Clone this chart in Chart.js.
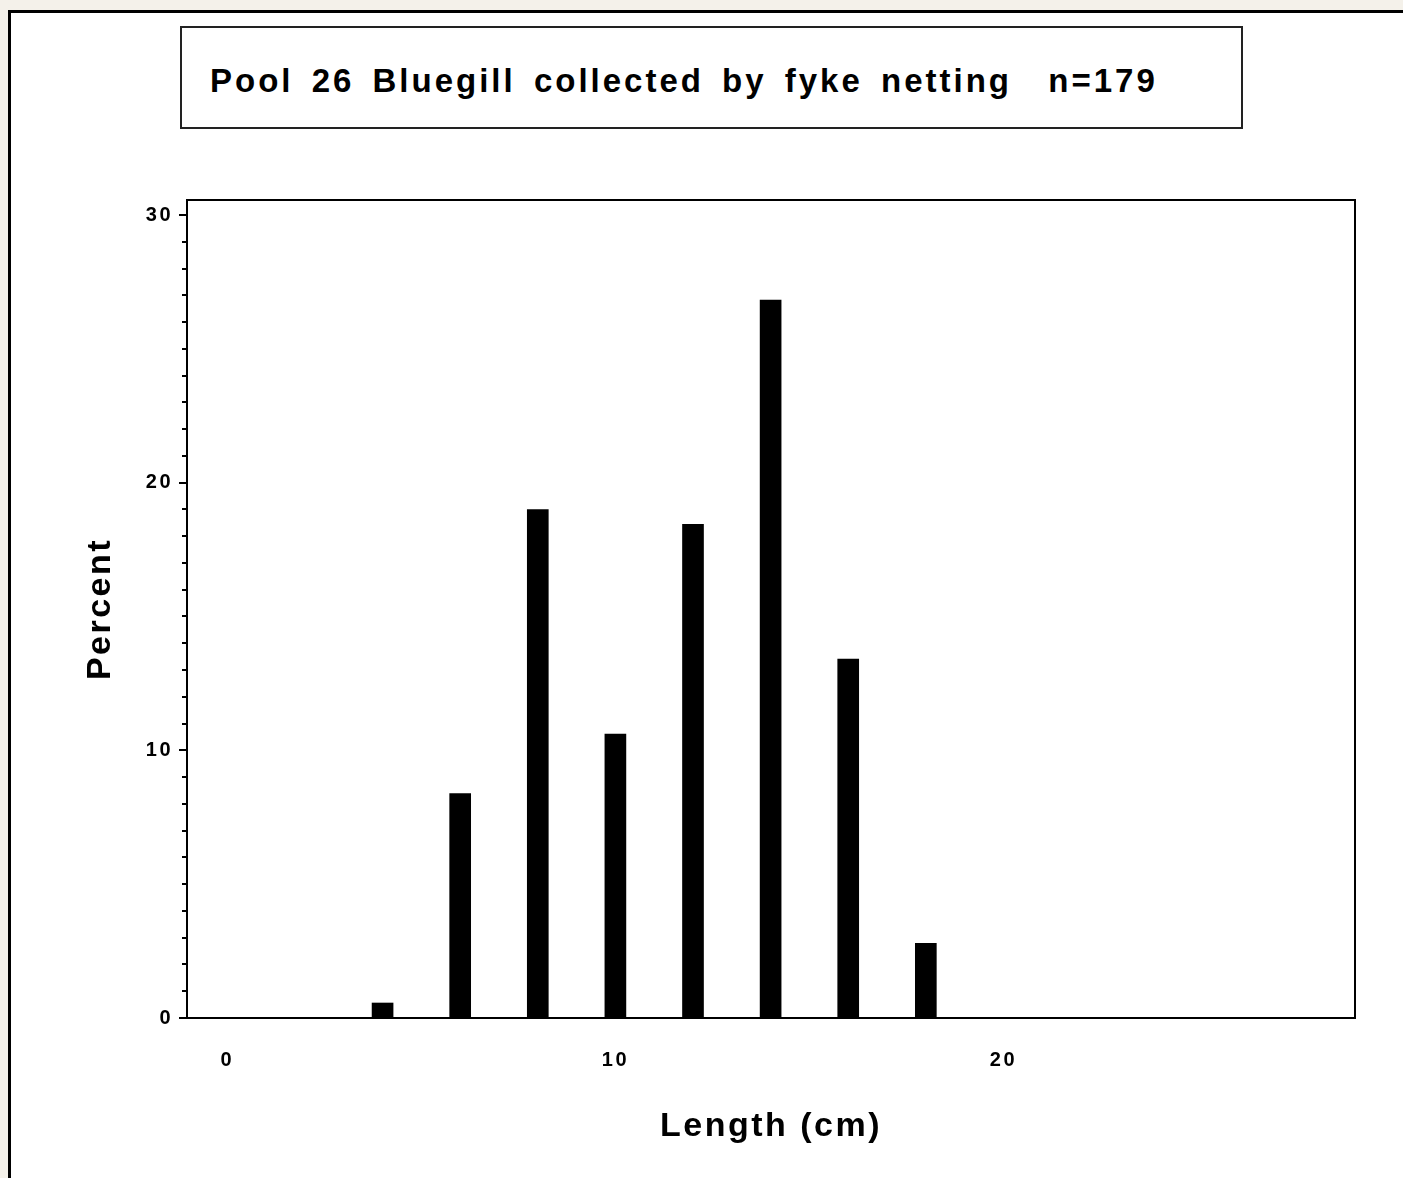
<!DOCTYPE html>
<html>
<head>
<meta charset="utf-8">
<script src="https://cdn.jsdelivr.net/npm/chart.js@4"></script>
<style>
  body {
    margin: 0;
    width: 1403px;
    height: 1178px;
    overflow: hidden;
    position: relative;
    background: #f4f1ea;
    font-family: "Liberation Sans", Arial, sans-serif;
  }
  #panel {
    position: absolute;
    left: 8px;
    top: 10px;
    right: 0;
    bottom: 0;
    background: #fff;
    border-left: 3px solid #000;
    border-top: 3px solid #000;
  }
  #title {
    position: absolute;
    left: 180px;
    top: 26px;
    width: 1031px;
    height: 65px;
    padding: 34px 0 0 28px;
    border: 2px solid #222;
    font-weight: bold;
    font-size: 33px;
    line-height: 38px;
    letter-spacing: 3px;
    word-spacing: 6px;
    white-space: pre;
    color: #000;
  }
  #chart {
    position: absolute;
    left: 0;
    top: 0;
  }
</style>
</head>
<body>
<div id="panel"></div>
<div id="title">Pool 26 Bluegill collected by fyke netting  n=179</div>
<canvas id="chart" width="1403" height="1178"></canvas>
<script>
// length classes (cm) and percent of fish in each
const lengths = [4, 6, 8, 10, 12, 14, 16, 18];
const percents = [0.56, 8.38, 18.99, 10.61, 18.44, 26.82, 13.41, 2.79];

const xTicks = [0, 10, 20];
const yTicks = [0, 10, 20, 30];
const yMinorTicks = [1, 2, 3, 4, 5, 6, 7, 8, 9, 11, 12, 13, 14, 15, 16, 17, 18, 19, 21, 22, 23, 24, 25, 26, 27, 28, 29];

const sasLook = {
    id: 'sasLook',
    beforeLayout(chart) {
        chart.ctx.letterSpacing = '2.5px';
    },
    beforeDraw(chart) {
        chart.ctx.letterSpacing = '2.5px';
    },
    afterDraw(chart) {
        const ctx = chart.ctx;
        const area = chart.chartArea;
        const yScale = chart.scales.y;
        ctx.save();
        ctx.strokeStyle = '#000';
        ctx.lineWidth = 2;
        // frame top and right
        ctx.beginPath();
        ctx.moveTo(area.left, area.top);
        ctx.lineTo(area.right, area.top);
        ctx.lineTo(area.right, area.bottom);
        ctx.stroke();
        // short minor ticks on the y axis
        ctx.beginPath();
        yMinorTicks.forEach(v => {
            const y = Math.round(yScale.getPixelForValue(v));
            ctx.moveTo(area.left - 5, y);
            ctx.lineTo(area.left, y);
        });
        ctx.stroke();
        ctx.restore();
    }
};

const ctx = document.getElementById('chart');

new Chart(ctx, {
    type: 'bar',
    data: {
        datasets: [{
            data: lengths.map((x, i) => ({ x: x, y: percents[i] })),
            backgroundColor: '#000',
            borderWidth: 0,
            barThickness: 21
        }]
    },
    options: {
        responsive: false,
        animation: false,
        layout: {
            padding: { left: 60, top: 200, right: 48, bottom: 0 }
        },
        plugins: {
            legend: { display: false },
            tooltip: { enabled: false }
        },
        scales: {
            x: {
                type: 'linear',
                offset: false,
                min: -1.04,
                max: 29.06,
                afterBuildTicks: scale => {
                    scale.ticks = xTicks.map(v => ({ value: v }));
                },
                afterFit: scale => {
                    scale.height = 160;
                },
                grid: { display: false, drawTicks: false },
                border: { display: true, color: '#000', width: 2 },
                ticks: {
                    color: '#000',
                    padding: 30,
                    maxRotation: 0,
                    font: { family: 'Liberation Sans', size: 20, weight: 'bold' }
                },
                title: {
                    display: true,
                    text: 'Length (cm)',
                    color: '#000',
                    padding: { top: 0, bottom: 31 },
                    font: { family: 'Liberation Sans', size: 34, weight: 'bold' }
                }
            },
            y: {
                min: 0,
                max: 30.56,
                afterBuildTicks: scale => {
                    scale.ticks = yTicks.map(v => ({ value: v }));
                },
                afterFit: scale => {
                    scale.width = 127;
                },
                grid: {
                    drawOnChartArea: false,
                    drawTicks: true,
                    tickLength: 8,
                    color: '#000',
                    lineWidth: 2
                },
                border: { display: true, color: '#000', width: 2 },
                ticks: {
                    color: '#000',
                    padding: 6,
                    font: { family: 'Liberation Sans', size: 20, weight: 'bold' }
                },
                title: {
                    display: true,
                    text: 'Percent',
                    color: '#000',
                    padding: { top: 20, bottom: 0 },
                    font: { family: 'Liberation Sans', size: 34, weight: 'bold' }
                }
            }
        }
    },
    plugins: [sasLook]
});
</script>
</body>
</html>
